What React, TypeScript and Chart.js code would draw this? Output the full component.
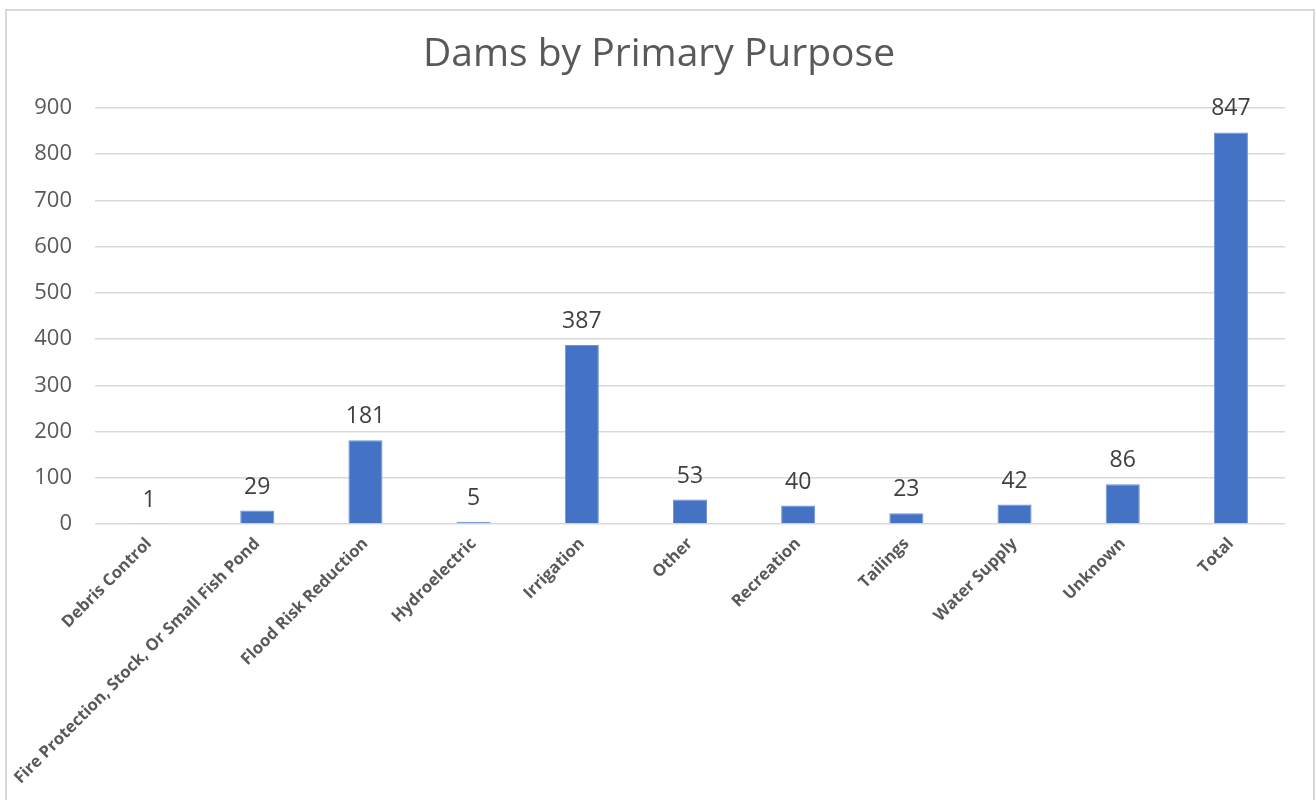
import React, { useEffect, useRef } from "react";
import { Chart, registerables } from "chart.js";

Chart.register(...registerables);

const categories: string[] = [
  "Debris Control",
  "Fire Protection, Stock, Or Small Fish Pond",
  "Flood Risk Reduction",
  "Hydroelectric",
  "Irrigation",
  "Other",
  "Recreation",
  "Tailings",
  "Water Supply",
  "Unknown",
  "Total",
];

const damCounts: number[] = [1, 29, 181, 5, 387, 53, 40, 23, 42, 86, 847];

const yTickValues: number[] = [0, 100, 200, 300, 400, 500, 600, 700, 800, 900];

const FONT = "'Open Sans', 'Noto Sans', sans-serif";
const TEXT_GREY = "#595959";
const GRID_GREY = "#d9d9d9";
const BAR_BLUE = "#4472C4";

// Draws each bar's value centred above it.
const valueLabels = {
  id: "valueLabels",
  afterDatasetsDraw(chart: any) {
    const { ctx } = chart;
    const meta = chart.getDatasetMeta(0);
    const values = chart.data.datasets[0].data as number[];
    ctx.save();
    ctx.font = `23px ${FONT}`;
    ctx.fillStyle = "#404040";
    ctx.textAlign = "center";
    ctx.textBaseline = "alphabetic";
    meta.data.forEach((bar: any, i: number) => {
      ctx.fillText(String(values[i]), bar.x, bar.y - 17);
    });
    ctx.restore();
  },
};

export default function App() {
  const canvasRef = useRef<HTMLCanvasElement | null>(null);

  useEffect(() => {
    document.body.style.margin = "0";
    document.body.style.overflow = "hidden";
    const canvas = canvasRef.current;
    if (!canvas) return;
    const chart = new Chart(canvas, {
      type: "bar",
      data: {
        labels: categories,
        datasets: [
          {
            data: damCounts,
            backgroundColor: BAR_BLUE,
            borderColor: "#6f93d4",
            borderWidth: 1,
            barPercentage: 0.315,
            categoryPercentage: 1,
          },
        ],
      },
      options: {
        responsive: false,
        animation: false,
        layout: { padding: { left: 2, right: 0, top: 0, bottom: 0 } },
        plugins: {
          legend: { display: false },
          tooltip: { enabled: false },
          title: {
            display: true,
            text: "Dams by Primary Purpose",
            color: TEXT_GREY,
            font: { family: FONT, size: 39, weight: "normal" },
            padding: { top: 31, bottom: 30.2 },
          },
        },
        scales: {
          x: {
            grid: { display: false, drawTicks: false },
            border: { display: false },
            ticks: {
              color: TEXT_GREY,
              font: { family: FONT, size: 16.5, weight: "bold" },
              minRotation: 45,
              maxRotation: 45,
              autoSkip: false,
              padding: 10,
            },
            afterFit(scale: any) {
              scale.height = 276;
            },
          },
          y: {
            min: 0,
            max: 900,
            afterBuildTicks(scale: any) {
              scale.ticks = yTickValues.map((v) => ({ value: v }));
            },
            grid: { color: GRID_GREY, lineWidth: 1.5, drawTicks: false },
            border: { display: false },
            ticks: {
              color: TEXT_GREY,
              font: { family: FONT, size: 22 },
              padding: 23,
            },
            afterFit(scale: any) {
              scale.width = 93;
            },
          },
          // Empty right-hand gutter so the plot ends short of the frame.
          gutter: {
            type: "linear",
            position: "right",
            grid: { display: false, drawTicks: false },
            border: { display: false },
            ticks: { display: false },
            afterFit(scale: any) {
              scale.width = 31;
            },
          },
        },
      },
      plugins: [valueLabels],
    });
    return () => chart.destroy();
  }, []);

  return (
    <div style={{ position: "relative", width: 1316, height: 800, overflow: "hidden", background: "#fff" }}>
      <canvas ref={canvasRef} width={1316} height={800} style={{ position: "absolute", left: 0, top: 0 }} />
      <div
        style={{
          position: "absolute",
          left: 5,
          top: 9,
          width: 1310,
          height: 900,
          border: `2px solid ${GRID_GREY}`,
          boxSizing: "border-box",
          pointerEvents: "none",
        }}
      />
    </div>
  );
}
